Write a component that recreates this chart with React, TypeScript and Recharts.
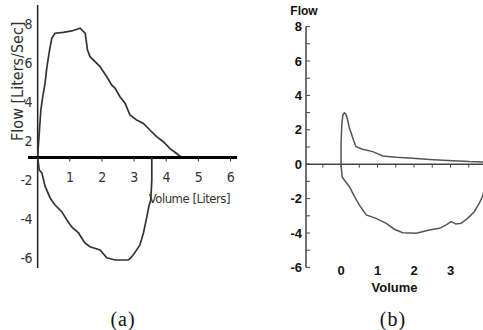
import { Line, LineChart, ReferenceLine, XAxis, YAxis } from 'recharts'

// (a) volume / flow traces
const expVolA = [0, 0.02, 0.1, 0.16, 0.23, 0.29, 0.37, 0.44, 0.54, 0.8, 1.06, 1.32, 1.48, 1.55, 1.63, 1.84, 1.94, 2.15, 2.3, 2.41, 2.56, 2.72, 2.87, 3.08, 3.29, 3.49, 3.7, 3.91, 4.11, 4.3, 4.48]
const expFlowA = [0, 0.55, 2.44, 3.12, 3.81, 4.66, 5.51, 6.11, 6.37, 6.42, 6.49, 6.63, 6.37, 5.51, 5.17, 4.83, 4.66, 4.14, 3.72, 3.55, 3.12, 2.78, 2.18, 1.92, 1.75, 1.41, 1.07, 0.81, 0.47, 0.23, 0]
const inspVolA = [0, 0.05, 0.13, 0.23, 0.39, 0.54, 0.75, 0.91, 1.06, 1.27, 1.47, 1.63, 1.94, 2.15, 2.41, 2.82, 2.93, 3.08, 3.18, 3.29, 3.39, 3.46, 3.52, 3.55, 3.55]
const inspFlowA = [0, -0.64, -0.79, -1.47, -2.08, -2.44, -2.78, -3.21, -3.56, -3.87, -4.38, -4.58, -4.74, -5.15, -5.26, -5.26, -5.09, -4.74, -4.49, -3.87, -3.1, -2.49, -2.18, -1.15, 0]

// (b) loop
const expVolB = [0, 0, 0.02, 0.05, 0.09, 0.13, 0.18, 0.23, 0.28, 0.34, 0.41, 0.59, 0.87, 1.14, 1.51, 1.96, 2.42, 3.06, 3.52, 3.88, 4.1]
const expFlowB = [0, 1.2, 2.28, 2.86, 2.99, 2.92, 2.57, 2.1, 1.8, 1.41, 1.02, 0.87, 0.73, 0.48, 0.4, 0.34, 0.28, 0.2, 0.15, 0.13, 0.1]
const inspVolB = [0, 0.03, 0.09, 0.23, 0.37, 0.5, 0.69, 0.96, 1.24, 1.46, 1.69, 2.06, 2.42, 2.7, 2.88, 3.02, 3.15, 3.29, 3.47, 3.65, 3.79, 3.87, 3.95, 4.02]
const inspFlowB = [0, -0.73, -0.92, -1.31, -1.89, -2.37, -2.95, -3.15, -3.44, -3.78, -3.98, -4.02, -3.83, -3.73, -3.53, -3.34, -3.48, -3.44, -3.15, -2.76, -2.27, -1.89, -1.3, -0.6]

// tick labels
const volTicksA = [1, 2, 3, 4, 5, 6]
const flowLabelsUpA = [2, 4, 6, 8]
const flowLabelsDownA = [-2, -4, -6]
const volTicksB = [0, 1, 2, 3]
const flowTicksB = [-6, -5, -4, -3, -2, -1, 0, 1, 2, 3, 4, 5, 6, 7, 8]
const zeroLineTicksB = [-0.5, 0, 0.5, 1, 1.5, 2, 2.5, 3, 3.5]

const toPoints = (vols: number[], flows: number[]) =>
  vols.map((v, i) => ({ v, f: flows[i] }))

const expA = toPoints(expVolA, expFlowA)
const inspA = toPoints(inspVolA, inspFlowA)
const expB = toPoints(expVolB, expFlowB)
const inspB = toPoints(inspVolB, inspFlowB)

const NARROW = "'Liberation Sans Narrow', 'DejaVu Sans Condensed', 'Arial Narrow', 'Liberation Sans', Arial, sans-serif"
const SANS = "'Liberation Sans', Arial, sans-serif"

const textA = { fill: '#333', fontSize: 13, fontFamily: NARROW, letterSpacing: -0.5 }
const tickB = { fill: '#111', fontSize: 13, fontFamily: SANS, fontWeight: 700 }

function ChartA() {
  return (
    <>
      {/* upper half: expiration, with the volume axis at its bottom */}
      <div style={{ position: 'absolute', left: 0, top: 0 }}>
        <LineChart width={245} height={210} margin={{ top: 5, right: 8, bottom: 0, left: 0 }}>
          <XAxis
            type="number"
            dataKey="v"
            domain={[-0.3, 6.2]}
            ticks={volTicksA}
            height={52.5}
            axisLine={{ stroke: '#000', strokeWidth: 3 }}
            tickLine={{ stroke: '#333' }}
            tickSize={4}
            tickMargin={11}
            tick={{ ...textA, fontSize: 14 }}
            label={{
              value: 'Volume [Liters]',
              position: 'insideBottomRight',
              offset: 7,
              style: textA,
            }}
          />
          <YAxis
            yAxisId="lbl"
            type="number"
            domain={[1.15, 8.97]}
            allowDataOverflow
            ticks={flowLabelsUpA}
            interval={0}
            width={28}
            axisLine={false}
            tickLine={false}
            tickSize={0}
            tickMargin={-4}
            tick={{ ...textA, fontSize: 14 }}
            label={{
              value: 'Flow [Liters/Sec]',
              angle: -90,
              position: 'insideLeft',
              offset: 17,
              style: { ...textA, fontSize: 16, letterSpacing: 0, textAnchor: 'middle' },
            }}
          />
          <YAxis yAxisId="flow" type="number" domain={[0, 7.82]} width={0} hide />
          <ReferenceLine x={0} yAxisId="flow" stroke="#222" strokeWidth={1.5} />
          <Line
            yAxisId="flow"
            data={expA}
            dataKey="f"
            type="linear"
            stroke="#333"
            strokeWidth={1.7}
            dot={false}
            isAnimationActive={false}
          />
        </LineChart>
      </div>
      {/* lower half: inspiration */}
      <div style={{ position: 'absolute', left: 0, top: 150 }}>
        <LineChart width={245} height={125} margin={{ top: 7.5, right: 8, bottom: 7, left: 0 }}>
          <XAxis type="number" dataKey="v" domain={[-0.3, 6.2]} hide />
          <YAxis
            yAxisId="lbl"
            type="number"
            domain={[-6.51, -0.85]}
            allowDataOverflow
            ticks={flowLabelsDownA}
            interval={0}
            width={28}
            axisLine={false}
            tickLine={false}
            tickSize={0}
            tickMargin={-4}
            tick={{ ...textA, fontSize: 14 }}
          />
          <YAxis yAxisId="flow" type="number" domain={[-5.67, 0]} width={0} hide />
          <ReferenceLine x={0} yAxisId="flow" stroke="#222" strokeWidth={1.5} />
          <Line
            yAxisId="flow"
            data={inspA}
            dataKey="f"
            type="linear"
            stroke="#333"
            strokeWidth={1.7}
            dot={false}
            isAnimationActive={false}
          />
        </LineChart>
      </div>
    </>
  )
}

function ChartB() {
  return (
    <div style={{ position: 'absolute', left: 250, top: 0 }}>
      <div
        style={{
          position: 'absolute',
          left: 38,
          top: 4,
          width: 32,
          textAlign: 'center',
          fontFamily: SANS,
          fontWeight: 700,
          fontSize: 12,
          lineHeight: '14px',
          color: '#111',
        }}
      >
        Flow
      </div>
      <LineChart width={233} height={300} margin={{ top: 26.6, right: 0, bottom: 0, left: 0 }}>
        <XAxis
          type="number"
          dataKey="v"
          domain={[-0.96, 3.89]}
          allowDataOverflow
          ticks={volTicksB}
          height={32.6}
          axisLine={false}
          tickLine={false}
          tickSize={0}
          tickMargin={-2}
          tick={tickB}
          label={{
            value: 'Volume',
            position: 'insideBottom',
            offset: 8,
            style: tickB,
          }}
        />
        <YAxis
          type="number"
          domain={[-6, 8]}
          ticks={flowTicksB}
          interval={0}
          width={56}
          axisLine={{ stroke: '#444', strokeWidth: 1.5 }}
          tickLine={{ stroke: '#444' }}
          tickSize={-4}
          tickMargin={8}
          tick={tickB}
          tickFormatter={(v: number) => (v % 2 === 0 ? String(v) : '')}
        />
        <ReferenceLine y={0} stroke="#444" strokeWidth={1.5} />
        {zeroLineTicksB.map((t) => (
          <ReferenceLine
            key={t}
            segment={[
              { x: t, y: 0 },
              { x: t, y: -0.2 },
            ]}
            stroke="#444"
          />
        ))}
        <Line
          data={expB}
          dataKey="f"
          type="linear"
          stroke="#555"
          strokeWidth={1.5}
          dot={false}
          isAnimationActive={false}
        />
        <Line
          data={inspB}
          dataKey="f"
          type="linear"
          stroke="#555"
          strokeWidth={1.5}
          dot={false}
          isAnimationActive={false}
        />
      </LineChart>
    </div>
  )
}

const captionStyle = {
  position: 'absolute' as const,
  top: 309,
  width: 100,
  textAlign: 'center' as const,
  fontFamily: "'Liberation Serif', 'Times New Roman', serif",
  fontSize: 20,
  lineHeight: '20px',
  letterSpacing: 1,
  color: '#111',
}

export default function App() {
  return (
    <div style={{ position: 'absolute', left: 0, top: 0, width: 483, height: 330, background: '#fff', overflow: 'hidden' }}>
      <ChartA />
      <ChartB />
      <div style={{ ...captionStyle, left: 73 }}>(a)</div>
      <div style={{ ...captionStyle, left: 343 }}>(b)</div>
    </div>
  )
}
